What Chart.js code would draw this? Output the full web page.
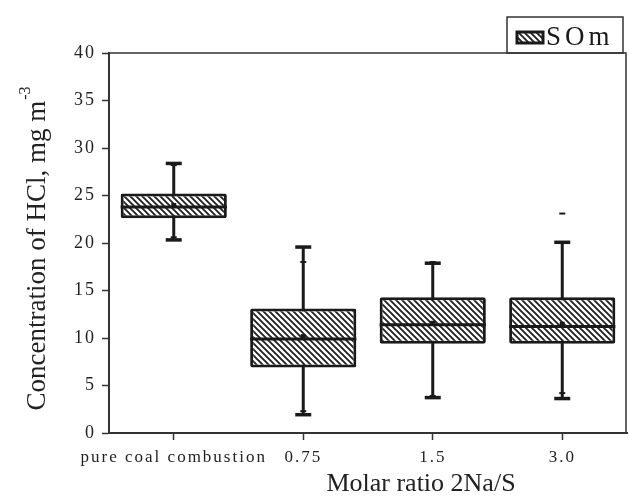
<!DOCTYPE html>
<html>
<head>
<meta charset="utf-8">
<script src="https://cdn.jsdelivr.net/npm/chart.js@4.4.1/dist/chart.umd.min.js"></script>
<style>
  body { margin: 0; background: #fff; }
  #wrap { width: 629px; height: 497px; }
</style>
</head>
<body>
<div id="wrap"><canvas id="boxChart"></canvas></div>
<script>
// Box plot data (mg m-3)
const categories = ['pure coal combustion', '0.75', '1.5', '3.0'];
const q1 = [22.6, 6.9, 9.4, 9.4];
const q3 = [25.2, 13.1, 14.3, 14.3];
const median = [23.8, 9.9, 11.4, 11.2];
const whiskerLow = [20.3, 1.9, 3.7, 3.6];
const whiskerHigh = [28.4, 19.6, 17.9, 20.1];
const mean = [24.0, 10.2, 11.6, 11.5];
const maxMark = [28.2, 18.0, 18.0, 20.0];
const minMark = [20.6, 2.3, 3.9, 4.2];
const outliers = [[], [], [], [23.1]];
const yTicks = [0, 5, 10, 15, 20, 25, 30, 35, 40];

const ink = '#1a1a1a';
const serif = "'Liberation Serif', 'DejaVu Serif', serif";

// diagonal hatch "\\\\"
function makeHatch() {
  const s = 6;
  const c = document.createElement('canvas');
  c.width = s; c.height = s;
  const g = c.getContext('2d');
  g.fillStyle = '#fff';
  g.fillRect(0, 0, s, s);
  g.strokeStyle = '#222';
  g.lineWidth = 1.9;
  g.beginPath();
  g.moveTo(0, 0); g.lineTo(s, s);
  g.moveTo(-1, s - 1); g.lineTo(1, s + 1);
  g.moveTo(s - 1, -1); g.lineTo(s + 1, 1);
  g.stroke();
  return g.createPattern(c, 'repeat');
}
const hatch = makeHatch();

// the tick labels in the figure are spaced out a little
const spacing = {
  id: 'spacing',
  beforeLayout(chart) { chart.ctx.letterSpacing = '2px'; },
  beforeDraw(chart) { chart.ctx.letterSpacing = '2px'; }
};

const boxParts = {
  id: 'boxParts',
  beforeDatasetsDraw(chart) {
    const { ctx, scales: { x, y } } = chart;
    ctx.save();
    ctx.strokeStyle = ink;
    ctx.fillStyle = ink;
    ctx.lineWidth = 3;
    categories.forEach((c, i) => {
      const xc = x.getPixelForValue(i);
      const yl = y.getPixelForValue(whiskerLow[i]);
      const yh = y.getPixelForValue(whiskerHigh[i]);
      ctx.beginPath();
      ctx.moveTo(xc, yl);
      ctx.lineTo(xc, yh);
      ctx.stroke();
      ctx.fillRect(xc - 8, yh - 1.5, 16, 3.5);
      ctx.fillRect(xc - 8, yl - 2, 16, 3.5);
    });
    ctx.restore();
  },
  afterDatasetsDraw(chart) {
    const { ctx, scales: { x, y } } = chart;
    const bars = chart.getDatasetMeta(0).data;
    ctx.save();
    ctx.strokeStyle = ink;
    ctx.fillStyle = ink;
    categories.forEach((c, i) => {
      const xc = x.getPixelForValue(i);
      const half = bars[i].width / 2;
      const ym = y.getPixelForValue(median[i]);
      ctx.lineWidth = 3;
      ctx.beginPath();
      ctx.moveTo(xc - half, ym);
      ctx.lineTo(xc + half, ym);
      ctx.stroke();
      // mean point
      const ya = y.getPixelForValue(mean[i]);
      ctx.fillRect(xc - 2.5, ya - 2, 5, 4);
      // min / max markers
      [maxMark[i], minMark[i]].forEach(v => {
        const yy = y.getPixelForValue(v);
        ctx.fillRect(xc - 3, yy - 1, 6, 2);
      });
      outliers[i].forEach(v => {
        const yy = y.getPixelForValue(v);
        ctx.fillRect(xc - 3, yy - 1, 6, 2);
      });
    });
    ctx.restore();
  },
  afterDraw(chart) {
    const { ctx, chartArea: a, scales: { y } } = chart;
    ctx.save();
    ctx.letterSpacing = '0px';
    // minor y ticks
    ctx.strokeStyle = '#333';
    ctx.lineWidth = 1.5;
    y.ticks.forEach(t => {
      if (yTicks.includes(t.value)) return;
      const yy = y.getPixelForValue(t.value);
      ctx.beginPath();
      ctx.moveTo(a.left - 4, yy);
      ctx.lineTo(a.left, yy);
      ctx.stroke();
    });

    // frame top + right
    ctx.beginPath();
    ctx.moveTo(a.left, a.top);
    ctx.lineTo(a.right - 1, a.top);
    ctx.lineTo(a.right - 1, a.bottom);
    ctx.stroke();

    // legend box
    const lx = a.right - 120, ly = a.top - 36;
    ctx.strokeRect(lx, ly, 116, 36);
    ctx.fillStyle = hatch;
    ctx.fillRect(lx + 10, ly + 15, 26, 11);
    ctx.strokeStyle = ink;
    ctx.lineWidth = 3;
    ctx.strokeRect(lx + 10, ly + 15, 26, 11);
    ctx.fillStyle = ink;
    ctx.font = '27px ' + serif;
    ctx.textBaseline = 'middle';
    ctx.textAlign = 'left';
    ctx.letterSpacing = '4px';
    ctx.fillText('SOm', lx + 39, ly + 21);
    ctx.letterSpacing = '0px';

    // axis titles
    ctx.fillStyle = '#222';
    ctx.font = '26px ' + serif;
    ctx.textAlign = 'center';
    ctx.fillText('Molar ratio 2Na/S', (a.left + a.right) / 2 + 53, 484);

    ctx.translate(38, (a.top + a.bottom) / 2 + 6);
    ctx.rotate(-Math.PI / 2);
    ctx.font = '27px ' + serif;
    const main = 'Concentration of HCl, mg m';
    const w = ctx.measureText(main).width;
    ctx.font = '16px ' + serif;
    const ws = ctx.measureText('-3').width;
    ctx.textAlign = 'left';
    ctx.font = '27px ' + serif;
    ctx.fillText(main, -(w + ws) / 2, 0);
    ctx.font = '16px ' + serif;
    ctx.fillText('-3', -(w + ws) / 2 + w + 1, -12);
    ctx.restore();
  }
};

new Chart(document.getElementById('boxChart'), {
  type: 'bar',
  data: {
    labels: categories,
    datasets: [{
      label: 'SOm',
      data: q1.map((v, i) => [v, q3[i]]),
      backgroundColor: hatch,
      borderColor: ink,
      borderWidth: 3,
      borderRadius: 2,
      borderSkipped: false,
      barPercentage: 0.82,
      categoryPercentage: 1
    }]
  },
  options: {
    responsive: true,
    maintainAspectRatio: false,
    animation: false,
    layout: { padding: { top: 53, right: 2, left: 0, bottom: 0 } },
    plugins: {
      legend: { display: false },
      tooltip: { enabled: false }
    },
    scales: {
      x: {
        offset: true,
        grid: { display: true, drawOnChartArea: false, offset: false, tickLength: 7, tickWidth: 1.5, tickColor: '#333' },
        border: { color: '#333', width: 2 },
        ticks: { color: '#222', font: { family: serif, size: 17 }, padding: 7, maxRotation: 0, autoSkip: false },
        afterFit: s => { s.height = 64; }
      },
      y: {
        min: 0,
        max: 40,
        grid: {
          display: true, drawOnChartArea: false, tickLength: 7, tickWidth: 1.5,
          tickColor: c => yTicks.includes(c.tick.value) ? '#333' : 'rgba(0,0,0,0)'
        },
        border: { color: '#333', width: 2 },
        ticks: {
          stepSize: 2.5,
          color: '#222',
          font: { family: serif, size: 18 },
          padding: 6,
          callback: v => yTicks.includes(v) ? v : ''
        },
        afterFit: s => { s.width = 109; }
      }
    }
  },
  plugins: [spacing, boxParts]
});
</script>
</body>
</html>
